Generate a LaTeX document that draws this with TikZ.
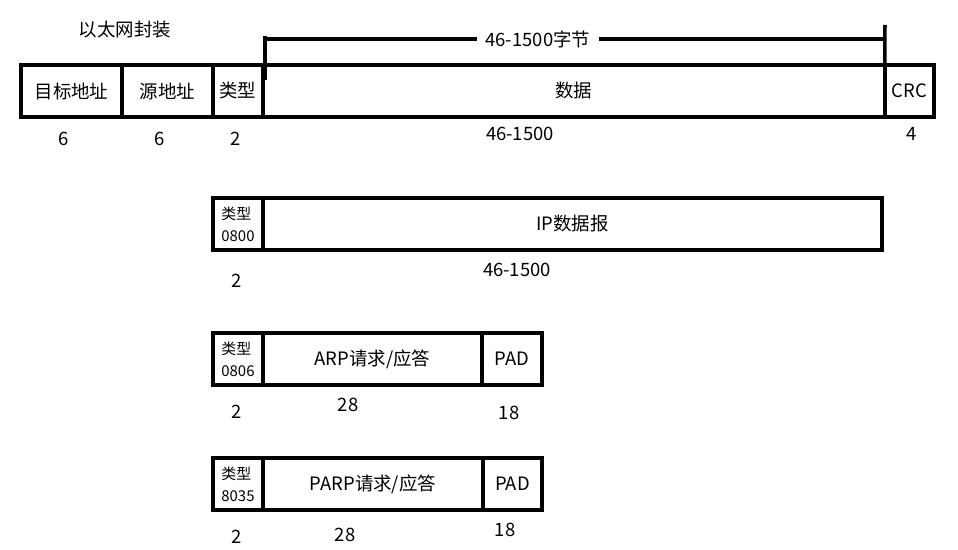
\documentclass[tikz,border=0pt]{standalone}
\usepackage{fontspec}
\setmainfont{Noto Sans CJK SC}
\usetikzlibrary{positioning}

\begin{document}
\begin{tikzpicture}[x=0.02cm, y=-0.02cm,
  fld/.style={draw, line width=2pt, outer sep=0pt, inner sep=0pt, minimum height=1.04cm,
              font=\fontsize{10.5}{12}\selectfont},
  typ/.style={fld, minimum width=1cm, align=left, font=\fontsize{8.5}{12.5}\selectfont},
  num/.style={font=\fontsize{10.5}{12}\selectfont},
  bar/.style={line width=2pt},
  lbl/.style={fill=white, inner xsep=5pt, font=\fontsize{10.5}{12}\selectfont}]
\useasboundingbox (0,0) rectangle (958,550);

\node[num] (title) at (125,30) {以太网封装};

% ethernet frame
\node[fld, minimum width=2.02cm, anchor=north west] (dst) at (21,65) {目标地址};
\node[fld, minimum width=1.82cm, right=0pt of dst] (src) {源地址};
\node[fld, minimum width=1cm, right=0pt of src] (typ1) {类型};
\node[fld, minimum width=12.44cm, right=0pt of typ1] (data) {数据};
\node[fld, minimum width=0.98cm, right=0pt of data] (crc) {CRC};

\coordinate (ltop) at (265,36);
\coordinate (lbot) at (265,80);
\coordinate (lmid) at (265,39);
\coordinate (rmid) at (885,39);
\coordinate (rtop) at (885,25);
\draw[bar] (ltop) -- (lbot);
\draw[bar] (rtop) -- (data.north east);
\draw[bar] (lmid) -- node[lbl, pos=0.44] (len) {46-1500字节} (rmid);

\node[num] (n1) at (64,139) {6};
\node[num] (n2) at (160,139) {6};
\node[num] (n3) at (236,139) {2};
\node[num] (n4) at (520,134) {46-1500};
\node[num] (n5) at (912,134) {4};

% IP
\node[typ, anchor=north west] (typ2) at (213,198) {类型\\0800};
\node[fld, minimum width=12.38cm, right=0pt of typ2] (ip) {IP数据报};
\node[num] (m1) at (237,281) {2};
\node[num] (m2) at (517,270) {46-1500};

% ARP
\node[typ, anchor=north west] (typ3) at (213,333) {类型\\0806};
\node[fld, minimum width=4.38cm, right=0pt of typ3] (arp) {ARP请求/应答};
\node[fld, minimum width=1.2cm, right=0pt of arp] (pad3) {PAD};
\node[num] (k1) at (237,412) {2};
\node[num] (k2) at (348,405) {28};
\node[num] (k3) at (509,413) {18};

% RARP
\node[typ, anchor=north west] (typ4) at (213,458) {类型\\8035};
\node[fld, minimum width=4.4cm, right=0pt of typ4] (parp) {PARP请求/应答};
\node[fld, minimum width=1.18cm, right=0pt of parp] (pad4) {PAD};
\node[num] (j1) at (237,537) {2};
\node[num] (j2) at (345,535) {28};
\node[num] (j3) at (505,530) {18};
\end{tikzpicture}
\end{document}
